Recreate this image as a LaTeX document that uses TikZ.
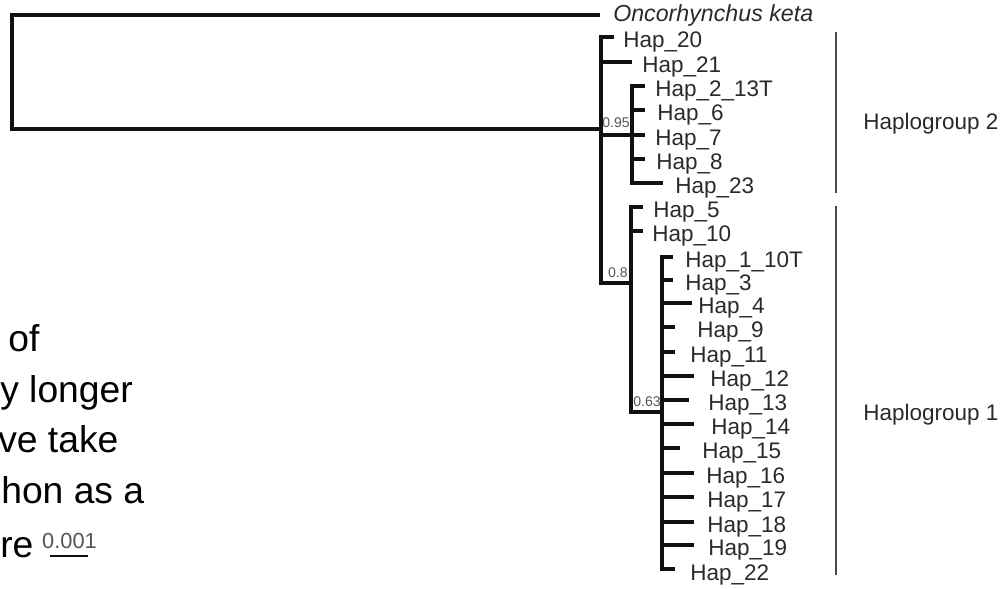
\documentclass[tikz,border=0pt]{standalone}
\usepackage{fontspec}
\setmainfont{Liberation Sans}
\usepackage{tikz}
\usetikzlibrary{positioning}
\definecolor{treeblack}{HTML}{111111}
\definecolor{labgray}{HTML}{2A2A2A}
\definecolor{suppgray}{HTML}{555555}
\definecolor{bargray}{HTML}{4A4A4A}

\begin{document}
\begin{tikzpicture}[x=0.025cm, y=-0.025cm, line join=miter,
  branch/.style={draw=treeblack, line width=2.5pt},
  hap/.style={anchor=base west, inner sep=0pt, text=labgray,
    font=\fontsize{16}{18}\selectfont},
  supp/.style={anchor=base east, inner sep=0pt, text=suppgray,
    font=\fontsize{10}{12}\selectfont},
  grpbar/.style={draw=bargray, line width=1.7pt},
  prose/.style={anchor=base west, inner sep=0pt,
    font=\fontsize{26.5}{30}\selectfont}]
  \useasboundingbox (0,0) rectangle (1007,589);
  % pixel grid: x to the right, y downwards
  \node[prose] (p1) at (8,352) {of};
  \node[prose] (p2) at (0,403) {y longer};
  \node[prose] (p3) at (-2,453) {ve take};
  \node[prose] (p4) at (1,503) {hon as a};
  \node[prose] (p5) at (0,557) {re};
  % scale bar
  \coordinate (sbL) at (50,556);
  \coordinate (sbR) at (88,556);
  \draw[branch, line width=2pt] (sbL) -- (sbR);
  \node[anchor=base, inner sep=0pt, text=suppgray,
    font=\fontsize{15.5}{17}\selectfont] (sblab) at (69.5,548) {0.001};
  % internal nodes
  \coordinate (root) at (12,72);
  \coordinate (tKeta) at (600,15);
  \coordinate (ingrp) at (601,129);
  \coordinate (cladeA) at (632,135);
  \coordinate (cladeB) at (631,283);
  \coordinate (cladeC) at (662,412);
  \draw[branch] (root) |- (tKeta);
  \draw[branch] (root) |- (ingrp);
  \node[hap, font=\fontsize{16.5}{18}\selectfont\itshape] (keta)
    at (613,22) {Oncorhynchus keta};
  \draw[branch] (ingrp) |- (cladeA);
  \draw[branch] (ingrp) |- (cladeB);
  \draw[branch] (cladeB) |- (cladeC);
  % tips: id/label/y/tip x/label x
  \foreach \n/\lab/\y/\t/\l in {20/20/37/614/623,21/21/62/632/642} {
    \coordinate (t\n) at (\t,\y);
    \draw[branch] (ingrp) |- (t\n);
    \node[hap] (h\n) at (\l,\y+11) {Hap\_\lab};
  }
  \foreach \n/\lab/\y/\t/\l in {2/2\_13T/86/645/655,6/6/110/645/657,
      7/7/135/645/655,8/8/159/645/656,23/23/183/663/675} {
    \coordinate (t\n) at (\t,\y);
    \draw[branch] (cladeA) |- (t\n);
    \node[hap] (h\n) at (\l,\y+11) {Hap\_\lab};
  }
  \foreach \n/\lab/\y/\t/\l in {5/5/207/643/653,10/10/231/643/652} {
    \coordinate (t\n) at (\t,\y);
    \draw[branch] (cladeB) |- (t\n);
    \node[hap] (h\n) at (\l,\y+11) {Hap\_\lab};
  }
  \foreach \n/\lab/\y/\t/\l in {1/1\_10T/257/673/685,3/3/280/673/685,
      4/4/303/692/698,9/9/327/675/697,11/11/352/675/690,
      12/12/376/694/710,13/13/400/689/708,14/14/424/694/711,
      15/15/448/680/702,16/16/473/694/706,17/17/497/694/707,
      18/18/522/694/707,19/19/545/694/708,22/22/569/675/690} {
    \coordinate (t\n) at (\t,\y);
    \draw[branch] (cladeC) |- (t\n);
    \node[hap] (h\n) at (\l,\y+11) {Hap\_\lab};
  }
  % posterior support
  \node[supp] (s95) at (630,128) {0.95};
  \node[supp] (s80) at (628,278) {0.8};
  \node[supp] (s63) at (661,407) {0.63};
  % haplogroups
  \coordinate (g2top) at (836,32);
  \coordinate (g2bot) at (836,193);
  \coordinate (g1top) at (836,206);
  \coordinate (g1bot) at (836,575);
  \draw[grpbar] (g2top) -- (g2bot);
  \draw[grpbar] (g1top) -- (g1bot);
  \node[hap] (hg2) at (863,130) {Haplogroup 2};
  \node[hap] (hg1) at (863,421) {Haplogroup 1};
\end{tikzpicture}
\end{document}
